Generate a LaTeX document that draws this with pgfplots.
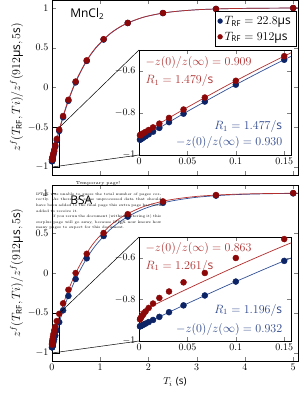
\documentclass[border=0pt]{standalone}
\usepackage{pgfplots}
\pgfplotsset{compat=1.18}
\usepackage{pgfplotstable}
\usepackage{amsmath}
\usepackage{fontspec}
\setsansfont{Open Sans}
\definecolor{dblue}{RGB}{12,36,102}
\definecolor{dred}{RGB}{140,8,8}
\definecolor{lblue}{RGB}{50,80,150}
\definecolor{lred}{RGB}{180,45,45}
\definecolor{tblue}{RGB}{45,70,140}
\definecolor{tred}{RGB}{175,50,50}
\newcommand{\RF}{\text{\sffamily RF}}

% ---------- MnCl2 data ----------
\pgfplotstableread{
t y
5 0.9988
3.4 0.9875
2.3 0.9364
1.57 0.8127
1.07 0.6077
0.72 0.3418
0.49 0.0751
0.34 -0.1546
0.23 -0.3584
0.15 -0.5293
0.1 -0.6465
0.068 -0.7263
0.046 -0.7834
0.031 -0.8235
0.021 -0.8506
0.0145 -0.8685
0.01 -0.8810
0.0068 -0.8899
0.0046 -0.8961
0.0031 -0.9003
0.0021 -0.9031
0.0014 -0.9050
0.001 -0.9062
}\topred
\pgfplotstableread{
t y
5 0.9988
3.4 0.9873
2.3 0.9354
1.57 0.8101
1.07 0.6026
0.72 0.3336
0.49 0.0640
0.34 -0.1680
0.23 -0.3742
0.15 -0.5465
0.1 -0.6650
0.068 -0.7455
0.046 -0.8032
0.031 -0.8435
0.021 -0.8711
0.0145 -0.8891
0.01 -0.9017
0.0068 -0.9107
0.0046 -0.9169
0.0031 -0.9212
0.0021 -0.9240
0.0014 -0.9260
0.001 -0.9272
}\topblue
\pgfplotstableread{
t y
0 -0.909
0.02 -0.8533
0.05 -0.7729
0.1 -0.6465
0.16 -0.5068
0.25 -0.3190
0.35 -0.1376
0.5 0.0888
0.7 0.3221
0.9 0.4957
1.2 0.6764
1.5 0.7924
1.9 0.8851
2.4 0.9452
3 0.9774
3.7 0.9920
4.4 0.9972
5.1 0.9990
}\topredfit
\pgfplotstableread{
t y
0 -0.930
0.02 -0.8738
0.05 -0.7926
0.1 -0.6650
0.16 -0.5238
0.25 -0.3341
0.35 -0.1509
0.5 0.0778
0.7 0.3136
0.9 0.4892
1.2 0.6721
1.5 0.7894
1.9 0.8834
2.4 0.9443
3 0.9770
3.7 0.9918
4.4 0.9971
5.1 0.9990
}\topbluefit

% ---------- BSA data ----------
\pgfplotstableread{
t y
5 1.0
3.4 0.975
2.3 0.895
1.57 0.735
1.07 0.50
0.72 0.24
0.49 0.0
0.34 -0.21
0.23 -0.38
0.15 -0.51
0.1 -0.601
0.068 -0.673
0.046 -0.718
0.031 -0.762
0.021 -0.793
0.0145 -0.82
0.01 -0.841
0.0068 -0.858
0.0046 -0.871
0.0031 -0.88
0.0021 -0.887
0.0014 -0.892
0.001 -0.896
}\botred
\pgfplotstableread{
t y
5 0.995
3.4 0.9669
2.3 0.8766
1.57 0.7046
1.07 0.4627
0.72 0.1833
0.49 -0.0752
0.34 -0.2866
0.23 -0.4673
0.15 -0.6148
0.1 -0.7143
0.068 -0.7811
0.046 -0.8287
0.031 -0.8617
0.021 -0.8841
0.0145 -0.8988
0.01 -0.9090
0.0068 -0.9164
0.0046 -0.9214
0.0031 -0.9249
0.0021 -0.9271
0.0014 -0.9288
0.001 -0.9297
}\botblue
\pgfplotstableread{
t y
0 -0.863
0.02 -0.8166
0.05 -0.7492
0.1 -0.6422
0.16 -0.5226
0.25 -0.3593
0.35 -0.1983
0.5 0.0083
0.7 0.2294
0.9 0.4011
1.2 0.5897
1.5 0.7190
1.9 0.8303
2.4 0.9097
3 0.9576
3.7 0.9825
4.4 0.9928
5.1 0.9970
}\botredfit
\pgfplotstableread{
t y
0 -0.932
0.02 -0.8863
0.05 -0.8199
0.1 -0.7143
0.16 -0.5955
0.25 -0.4327
0.35 -0.2712
0.5 -0.0624
0.7 0.1636
0.9 0.3416
1.2 0.5400
1.5 0.6787
1.9 0.8009
2.4 0.8905
3 0.9466
3.7 0.9769
4.4 0.9900
5.1 0.9957
}\botbluefit

\pgfplotsset{
  mainax/.style={scale only axis, width=246pt, xmin=0, xmax=5.1,
    ymin=-1.1, ymax=1.1, ytick={-1,-0.5,0,0.5,1}, xtick={0,1,2,3,4,5},
    ylabel={\large $z^f(T_{\RF}, Ti)/z^f(912\text{\sffamily µs}, 5\text{\sffamily s})$},
    ylabel style={yshift=-2pt}},
  insetax/.style={scale only axis, width=152pt, xmin=0, xmax=0.157,
    ymin=-1, ymax=-0.5, xtick={0,0.05,0.1,0.15}, ytick={-1,-0.8,-0.6},
    axis background/.style={fill=white}, scaled x ticks=false,
    xticklabel style={/pgf/number format/fixed}},
  ptsb/.style={only marks, mark=*, mark size=3pt, color=dblue},
  ptsr/.style={only marks, mark=*, mark size=3pt, color=dred},
  fitb/.style={no marks, smooth, color=lblue, line width=0.7pt},
  fitr/.style={no marks, smooth, color=lred, line width=0.7pt},
}

\begin{document}
\begin{tikzpicture}
% ===== top main =====
\begin{axis}[mainax, height=175pt, at={(0pt,186pt)}, anchor=south west,
  xticklabels={},
  legend style={at={(rel axis cs:0.992,0.937)}, anchor=north east, font=\large,
    draw=black, inner xsep=3pt, inner ysep=3pt, row sep=2pt},
  legend image post style={mark size=2.4pt},
  legend cell align=left]
\addplot[fitb, forget plot] table {\topbluefit};
\addplot[fitr, forget plot] table {\topredfit};
\addplot[ptsb] table {\topblue};
\addlegendentry{$T_{\RF} = 22.8\text{\sffamily µs}$}
\addplot[ptsr] table {\topred};
\addlegendentry{$T_{\RF} = 912\text{\sffamily µs}$}
\draw[black, line width=0.5pt] (axis cs:0,-1) rectangle (axis cs:0.157,-0.5);
\coordinate (tr1) at (axis cs:0.157,-0.5);
\coordinate (bl1) at (axis cs:0,-1);
\node[anchor=west, font=\sffamily\large] at (rel axis cs:0.06,0.92) {MnCl\textsubscript{2}};
\end{axis}
\draw[black, line width=0.5pt] (tr1) -- (87pt,311pt);
\draw[black, line width=0.5pt] (bl1) -- (87pt,206pt);
% ===== top inset =====
\begin{axis}[insetax, height=105pt, at={(87pt,206pt)}, anchor=south west]
\addplot[fitb] table {\topbluefit};
\addplot[fitr] table {\topredfit};
\addplot[ptsb] table {\topblue};
\addplot[ptsr] table {\topred};
\node[anchor=west, text=tred, font=\large] at (rel axis cs:0.02,0.885) {$-z(0)/z(\infty) = 0.909$};
\node[anchor=west, text=tred, font=\large] at (rel axis cs:0.02,0.705) {$R_1 = 1.479/\textsf{s}$};
\node[anchor=east, text=tblue, font=\large] at (rel axis cs:0.965,0.27) {$R_1 = 1.477/\textsf{s}$};
\node[anchor=east, text=tblue, font=\large] at (rel axis cs:0.965,0.115) {$-z(0)/z(\infty) = 0.930$};
\end{axis}

% ===== bottom main =====
\begin{axis}[mainax, height=176pt, at={(0pt,0pt)}, anchor=south west,
  xlabel={$T_i$ \textsf{(s)}}]
\addplot[fitb, forget plot] table {\botbluefit};
\addplot[fitr, forget plot] table {\botredfit};
\addplot[ptsb] table {\botblue};
\addplot[ptsr] table {\botred};
\draw[black, line width=0.5pt] (axis cs:0,-1) rectangle (axis cs:0.157,-0.5);
\coordinate (tr2) at (axis cs:0.157,-0.5);
\coordinate (bl2) at (axis cs:0,-1);
\node[anchor=west, font=\sffamily\large] at (rel axis cs:0.06,0.915) {BSA};
\end{axis}
\draw[black, line width=0.5pt] (tr2) -- (87pt,124pt);
\draw[black, line width=0.5pt] (bl2) -- (87pt,20pt);
% ===== bottom inset =====
\begin{axis}[insetax, height=104pt, at={(87pt,20pt)}, anchor=south west]
\addplot[fitb] table {\botbluefit};
\addplot[fitr] table {\botredfit};
\addplot[ptsb] table {\botblue};
\addplot[ptsr] table {\botred};
\node[anchor=west, text=tred, font=\large] at (rel axis cs:0.02,0.894) {$-z(0)/z(\infty) = 0.863$};
\node[anchor=west, text=tred, font=\large] at (rel axis cs:0.02,0.72) {$R_1 = 1.261/\textsf{s}$};
\node[anchor=east, text=tblue, font=\large] at (rel axis cs:0.965,0.298) {$R_1 = 1.196/\textsf{s}$};
\node[anchor=east, text=tblue, font=\large] at (rel axis cs:0.965,0.115) {$-z(0)/z(\infty) = 0.932$};
\end{axis}

% ===== stray temporary-page text =====
\node[font=\fontsize{4.4}{5}\selectfont] at (46pt,178pt) {Temporary page!};
\node[anchor=north west, inner sep=0pt, text width=125pt, align=justify,
  font=\fontsize{3.6}{5.6}\selectfont] at (-16pt,168.5pt)
  {\setlength{\parindent}{8pt}\noindent\LaTeX{} was unable to guess the total number of pages correctly. As there was some unprocessed data that should have been added to the final page this extra page has been added to receive it.\par
  \hspace*{8pt}If you rerun the document (without altering it) this surplus page will go away, because \LaTeX{} now knows how many pages to expect for this document.};

\pgfresetboundingbox
\path[use as bounding box] (-52pt,-33pt) rectangle (248pt,361pt);
\end{tikzpicture}
\end{document}
